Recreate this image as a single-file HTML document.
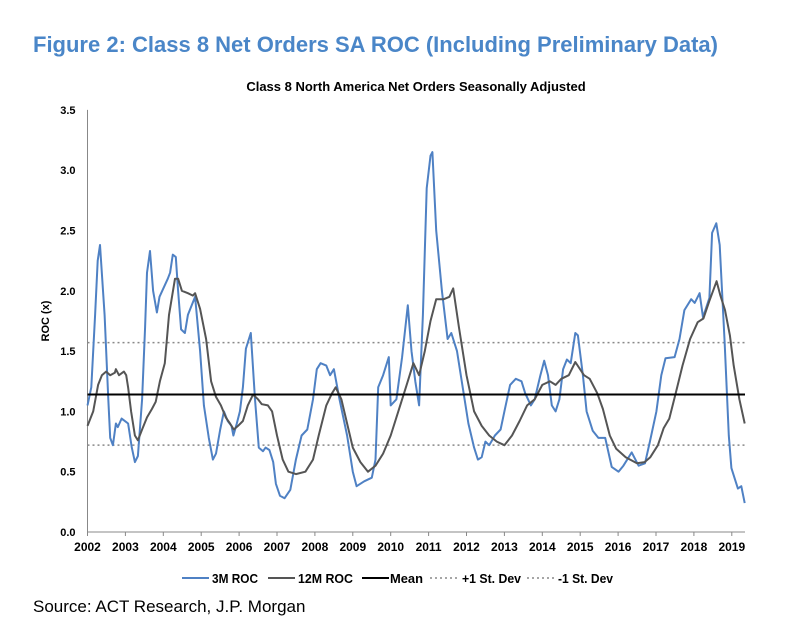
<!DOCTYPE html>
<html><head><meta charset="utf-8">
<style>
body{margin:0;background:#fff;width:800px;height:641px;overflow:hidden;font-family:"Liberation Sans",Arial,sans-serif;}
svg{position:absolute;left:0;top:0}
</style></head>
<body>
<svg id="c" width="800" height="641">
<text x="33" y="52" font-size="22" font-weight="bold" fill="#4a86c8" textLength="685" lengthAdjust="spacingAndGlyphs">Figure 2: Class 8 Net Orders SA ROC (Including Preliminary Data)</text>
<text x="416" y="91" font-size="13" font-weight="bold" text-anchor="middle" fill="#000">Class 8 North America Net Orders Seasonally Adjusted</text>
<text x="33" y="612" font-size="17" fill="#000">Source: ACT Research, J.P. Morgan</text>
<text transform="translate(49,321) rotate(-90)" font-size="11" font-weight="bold" text-anchor="middle">ROC (x)</text>
<g id="axes"></g><g id="series"></g><g id="legend"></g>
</svg>
<script>
const yTicks=[0,0.5,1.0,1.5,2.0,2.5,3.0,3.5];
const xTicks=[2002,2003,2004,2005,2006,2007,2008,2009,2010,2011,2012,2013,2014,2015,2016,2017,2018,2019];
const meanVal=1.14, plusSd=1.57, minusSd=0.72;
const t3m=[2002.0,2002.1,2002.2,2002.27,2002.33,2002.45,2002.55,2002.6,2002.67,2002.75,2002.8,2002.9,2003.07,2003.17,2003.25,2003.33,2003.44,2003.52,2003.57,2003.65,2003.73,2003.83,2003.9,2004.12,2004.18,2004.25,2004.33,2004.39,2004.47,2004.57,2004.65,2004.84,2004.97,2005.07,2005.2,2005.31,2005.39,2005.5,2005.6,2005.7,2005.8,2005.85,2005.94,2006.02,2006.1,2006.18,2006.31,2006.42,2006.52,2006.63,2006.7,2006.8,2006.9,2006.97,2007.08,2007.2,2007.35,2007.5,2007.65,2007.8,2007.95,2008.05,2008.15,2008.3,2008.4,2008.5,2008.65,2008.85,2009.0,2009.1,2009.3,2009.5,2009.6,2009.67,2009.8,2009.95,2010.0,2010.15,2010.3,2010.45,2010.55,2010.65,2010.75,2010.85,2010.95,2011.05,2011.1,2011.2,2011.35,2011.5,2011.6,2011.75,2011.9,2012.05,2012.2,2012.3,2012.4,2012.5,2012.6,2012.75,2012.9,2013.0,2013.15,2013.3,2013.45,2013.55,2013.7,2013.8,2013.95,2014.05,2014.15,2014.25,2014.35,2014.45,2014.55,2014.65,2014.75,2014.87,2014.94,2015.07,2015.17,2015.33,2015.48,2015.66,2015.83,2016.01,2016.14,2016.36,2016.54,2016.71,2016.84,2017.01,2017.14,2017.25,2017.49,2017.62,2017.75,2017.93,2018.02,2018.15,2018.24,2018.41,2018.48,2018.59,2018.68,2018.81,2018.92,2018.99,2019.16,2019.25,2019.34];
const v3m=[1.05,1.2,1.8,2.25,2.38,1.8,1.1,0.78,0.72,0.9,0.87,0.94,0.9,0.7,0.58,0.63,1.1,1.7,2.15,2.33,2.0,1.82,1.95,2.1,2.15,2.3,2.28,2.0,1.68,1.65,1.8,1.95,1.5,1.05,0.78,0.6,0.65,0.85,1.0,0.92,0.88,0.8,0.9,1.0,1.2,1.52,1.65,1.1,0.7,0.67,0.7,0.68,0.58,0.4,0.3,0.28,0.35,0.6,0.8,0.85,1.1,1.35,1.4,1.38,1.3,1.35,1.1,0.8,0.5,0.38,0.42,0.45,0.6,1.2,1.3,1.45,1.05,1.1,1.45,1.88,1.5,1.25,1.05,1.8,2.85,3.12,3.15,2.5,2.0,1.6,1.65,1.5,1.2,0.9,0.7,0.6,0.62,0.75,0.72,0.8,0.85,1.0,1.22,1.27,1.25,1.15,1.05,1.1,1.3,1.42,1.3,1.05,1.0,1.1,1.35,1.43,1.4,1.65,1.63,1.3,1.0,0.84,0.78,0.78,0.54,0.5,0.55,0.66,0.55,0.57,0.75,1.0,1.3,1.44,1.45,1.6,1.84,1.93,1.9,1.98,1.78,1.94,2.48,2.56,2.38,1.58,0.8,0.53,0.36,0.38,0.24];
const t12m=[2002.0,2002.15,2002.28,2002.38,2002.49,2002.6,2002.72,2002.75,2002.83,2002.96,2003.02,2003.07,2003.15,2003.25,2003.33,2003.44,2003.57,2003.7,2003.8,2003.91,2004.04,2004.15,2004.31,2004.39,2004.49,2004.65,2004.78,2004.84,2004.97,2005.13,2005.26,2005.39,2005.52,2005.65,2005.76,2005.86,2005.97,2006.1,2006.23,2006.37,2006.5,2006.6,2006.76,2006.87,2007.0,2007.15,2007.3,2007.5,2007.75,2007.95,2008.1,2008.3,2008.45,2008.55,2008.7,2008.85,2009.0,2009.2,2009.4,2009.6,2009.8,2010.0,2010.2,2010.4,2010.6,2010.75,2010.9,2011.05,2011.2,2011.4,2011.55,2011.65,2011.8,2012.0,2012.2,2012.4,2012.6,2012.8,2013.0,2013.2,2013.4,2013.6,2013.8,2014.0,2014.2,2014.35,2014.5,2014.7,2014.87,2015.1,2015.25,2015.45,2015.6,2015.78,2015.95,2016.2,2016.5,2016.7,2016.85,2017.05,2017.2,2017.35,2017.52,2017.7,2017.9,2018.1,2018.25,2018.4,2018.6,2018.7,2018.82,2018.95,2019.05,2019.2,2019.34];
const v12m=[0.88,1.0,1.22,1.3,1.33,1.3,1.32,1.35,1.3,1.33,1.3,1.2,1.0,0.8,0.76,0.85,0.95,1.02,1.08,1.25,1.4,1.8,2.1,2.1,2.0,1.98,1.96,1.98,1.85,1.6,1.25,1.12,1.05,0.95,0.9,0.85,0.88,0.92,1.05,1.14,1.1,1.06,1.05,1.0,0.8,0.6,0.5,0.48,0.5,0.6,0.8,1.05,1.15,1.2,1.1,0.9,0.7,0.58,0.5,0.55,0.65,0.8,1.0,1.2,1.4,1.3,1.5,1.75,1.93,1.93,1.95,2.02,1.7,1.3,1.0,0.88,0.8,0.75,0.72,0.8,0.92,1.05,1.1,1.22,1.25,1.22,1.27,1.3,1.41,1.3,1.27,1.15,1.02,0.8,0.69,0.62,0.57,0.58,0.62,0.72,0.86,0.94,1.15,1.38,1.6,1.74,1.77,1.91,2.08,1.96,1.84,1.63,1.38,1.1,0.9];

const X0=87.5,YR=37.9,Y0=532,YS=120.6,XEND=745;
const xs=t=>X0+(t-2002)*YR;
const ys=v=>Y0-v*YS;
const NS='http://www.w3.org/2000/svg';
function mk(tag,attrs,parent){const e=document.createElementNS(NS,tag);for(const k in attrs)e.setAttribute(k,attrs[k]);parent.appendChild(e);return e;}
const ax=document.getElementById('axes'),se=document.getElementById('series'),lg=document.getElementById('legend');
let a=mk('line',{x1:X0,y1:ys(3.5),x2:X0,y2:Y0,stroke:'#888','stroke-width':1},ax);


a=mk('line',{x1:X0,y1:Y0,x2:XEND,y2:Y0,stroke:'#888','stroke-width':1},ax);


yTicks.forEach(v=>{const t=mk('text',{x:X0-12,y:ys(v)+4,'font-size':11,'font-weight':'bold','text-anchor':'end'},ax);t.textContent=v.toFixed(1);

});
xTicks.forEach(y=>{const l=mk('line',{x1:xs(y),y1:Y0,x2:xs(y),y2:Y0+4,stroke:'#888'},ax);


const t=mk('text',{x:xs(y),y:Y0+19,'font-size':12,'font-weight':'bold','text-anchor':'middle'},ax);t.textContent=y;

});
function hline(v,dash,col,w,name){const l=mk('line',{x1:X0,y1:ys(v),x2:XEND,y2:ys(v),stroke:col,'stroke-width':w},se);if(dash)l.setAttribute('stroke-dasharray',dash);

}
hline(plusSd,'2,3','#888',1.5,'plus-1-sd-line');
hline(minusSd,'2,3','#888',1.5,'minus-1-sd-line');
function path(ts,vs,col,name){const d=ts.map((t,i)=>(i?'L':'M')+xs(t).toFixed(1)+','+ys(vs[i]).toFixed(1)).join('');
const p=mk('path',{d:d,fill:'none',stroke:col,'stroke-width':2,'stroke-linejoin':'round'},se);

}
path(t3m,v3m,'#4f81c4','series-3m-roc');
path(t12m,v12m,'#555','series-12m-roc');
hline(meanVal,null,'#000',2,'mean-line');
// legend: [label, color, dash, width, lineStart, textStart, textWidth]
const items=[['3M ROC','#4f81c4',null,2,182,212,46],['12M ROC','#555',null,2,268,298,55],['Mean','#000',null,2,362,390,33],['+1 St. Dev','#888','2,3',1.5,430,462,59],['-1 St. Dev','#888','2,3',1.5,527,558,55]];
items.forEach(it=>{const g=mk('g',{},lg);


const l=mk('line',{x1:it[4],y1:578,x2:it[4]+27,y2:578,stroke:it[1],'stroke-width':it[3]},g);if(it[2])l.setAttribute('stroke-dasharray',it[2]);
const t=mk('text',{x:it[5],y:583,'font-size':13,'font-weight':'bold',textLength:it[6],lengthAdjust:'spacingAndGlyphs'},g);t.textContent=it[0];});
</script>
</body></html>
